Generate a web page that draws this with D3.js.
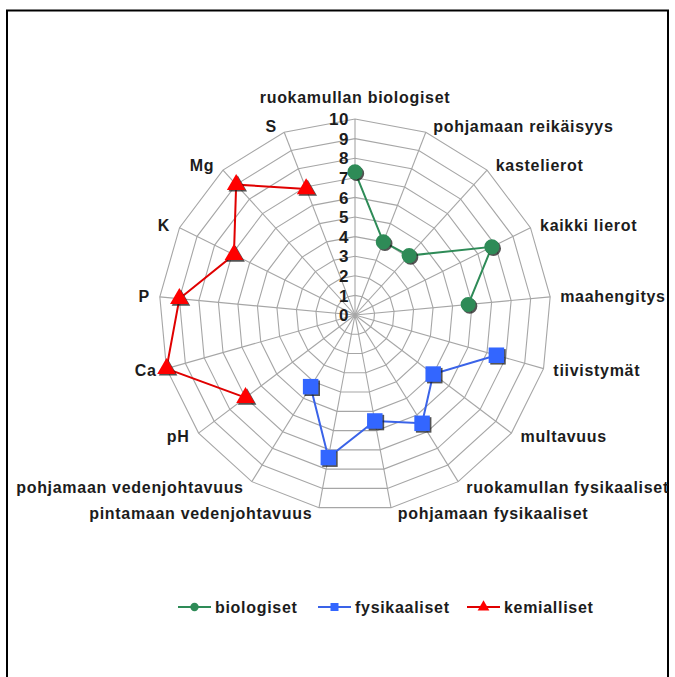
<!DOCTYPE html>
<html><head><meta charset="utf-8">
<script src="https://cdn.jsdelivr.net/npm/d3@7"></script>
<style>
html,body{margin:0;padding:0;background:#fff;}
text{font-family:"Liberation Sans",Arial,sans-serif;font-weight:bold;fill:#1c1c1c;font-size:16px;letter-spacing:0.7px;}
text.tick{font-size:17px;letter-spacing:0.5px;}
</style></head><body>
<svg id="c" width="675" height="677"></svg>
<script>
const categories = ["ruokamullan biologiset","pohjamaan reikäisyys","kastelierot","kaikki lierot","maahengitys","tiivistymät","multavuus","ruokamullan fysikaaliset","pohjamaan fysikaaliset","pintamaan vedenjohtavuus","pohjamaan vedenjohtavuus","pH","Ca","P","K","Mg","S"];
const biologiset   = [7.3,4.0,4.1,7.8,5.8,null,null,null,null,null,null,null,null,null,null,null,null];
const fysikaaliset = [null,null,null,null,null,7.5,5.0,6.5,5.5,7.4,4.3,null,null,null,null,null,null];
const kemialliset  = [null,null,null,null,null,null,null,null,null,null,null,7.0,10,9.0,6.9,9.0,6.9];
const tickValues = [0,1,2,3,4,5,6,7,8,9,10];
const seriesNames = ["biologiset","fysikaaliset","kemialliset"];

const svg = d3.select("#c");
const cx = 355, cy = 315, R = 196;
const n = categories.length;
const r = d3.scaleLinear().domain([0,10]).range([0,R]);
const ang = d3.scaleLinear().domain([0,n]).range([0,2*Math.PI]);

// frame
svg.append("rect").attr("x",7).attr("y",10.5).attr("width",661).attr("height",680)
  .attr("fill","none").attr("stroke","#000").attr("stroke-width",2);

const g = svg.append("g").attr("transform",`translate(${cx},${cy})`);

// grid polygons
const ring = d3.lineRadial().angle((d,i)=>ang(i)).radius(d=>r(d)).curve(d3.curveLinearClosed);
g.selectAll("path.ring").data(tickValues.filter(t=>t>0)).join("path")
  .attr("class","ring").attr("d",t=>ring(categories.map(()=>t)))
  .attr("fill","none").attr("stroke","#a6a6a6").attr("stroke-width",1.1);
// spokes
g.selectAll("line.spoke").data(categories).join("line")
  .attr("x1",0).attr("y1",0)
  .attr("x2",(d,i)=>r(10)*Math.sin(ang(i)))
  .attr("y2",(d,i)=>-r(10)*Math.cos(ang(i)))
  .attr("stroke","#a6a6a6").attr("stroke-width",1.1);

// tick labels
g.selectAll("text.tick").data(tickValues).join("text")
  .attr("class","tick").attr("x",-6).attr("y",d=>-r(d)).attr("dy","0.36em")
  .attr("text-anchor","end").text(d=>d);

// category labels
g.selectAll("text.cat").data(categories).join("text")
  .attr("class","cat")
  .each(function(d,i){
    const a = ang(i), s = Math.sin(a), c = Math.cos(a);
    const vx = r(10)*s, vy = -r(10)*c;
    const t = d3.select(this);
    if (Math.abs(s) < 0.1) {
      t.attr("x",vx).attr("y",vy-22).attr("dy","0.36em").attr("text-anchor","middle");
    } else {
      t.attr("x",vx + Math.sign(s)*(6+4*Math.abs(s))).attr("y",vy - c*6).attr("dy","0.36em")
       .attr("text-anchor", s>0 ? "start" : "end");
    }
  }).text(d=>d);

const colors = {biologiset:"#2e8b57", fysikaaliset:"#3366ff", kemialliset:"#ff0000"};
const lineColors = {biologiset:"#2e8b57", fysikaaliset:"#3a63e8", kemialliset:"#e00000"};
const symbols = {biologiset:d3.symbolCircle, fysikaaliset:d3.symbolSquare, kemialliset:d3.symbolTriangle};
const sizes = {biologiset:180, fysikaaliset:240, kemialliset:150};
const seriesData = {biologiset, fysikaaliset, kemialliset};

const line = d3.lineRadial().defined(d=>d.v!=null).angle(d=>ang(d.i)).radius(d=>r(d.v));
seriesNames.forEach(name=>{
  const pts = seriesData[name].map((v,i)=>({v,i}));
  g.append("path").attr("d",line(pts)).attr("fill","none")
    .attr("stroke",lineColors[name]).attr("stroke-width",2);
  const valid = pts.filter(d=>d.v!=null);
  const sym = d3.symbol().type(symbols[name]).size(sizes[name]);
  const pos = d=>[r(d.v)*Math.sin(ang(d.i)), -r(d.v)*Math.cos(ang(d.i))];
  g.selectAll(null).data(valid).join("path")
    .attr("d",sym).attr("transform",d=>{const p=pos(d);return `translate(${p[0]+1.6},${p[1]+1.6})`;})
    .attr("fill","#1a1a1a").attr("opacity",0.75);
  g.selectAll(null).data(valid).join("path")
    .attr("d",sym).attr("transform",d=>{const p=pos(d);return `translate(${p[0]},${p[1]})`;})
    .attr("fill",colors[name]);
});

// legend
const legendX = [178, 318, 467];
const lg = svg.append("g").attr("transform","translate(0,607)");
seriesNames.forEach((name,k)=>{
  const x0 = legendX[k];
  lg.append("line").attr("x1",x0).attr("x2",x0+33).attr("y1",0).attr("y2",0)
    .attr("stroke",lineColors[name]).attr("stroke-width",2);
  lg.append("path").attr("d",d3.symbol().type(symbols[name]).size(name==="kemialliset"?60:(name==="fysikaaliset"?64:55)))
    .attr("transform",`translate(${x0+16.5},0)`).attr("fill",colors[name]);
  lg.append("text").attr("x",x0+37).attr("y",0).attr("dy","0.36em").text(name);
});
</script>
</body></html>
